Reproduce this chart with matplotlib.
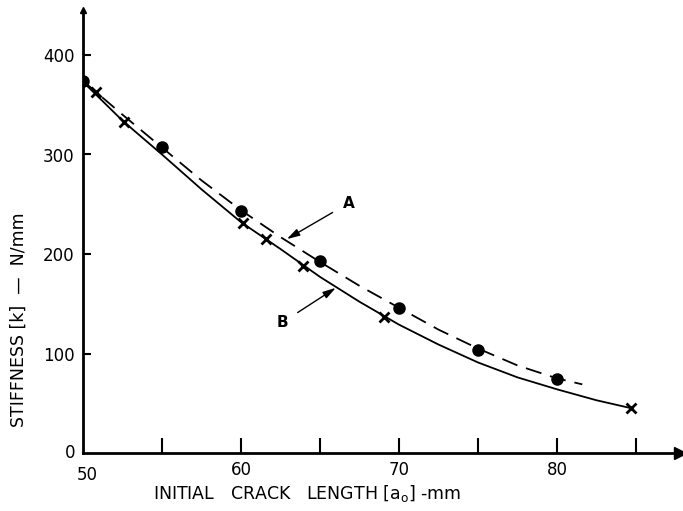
import numpy as np
import matplotlib.pyplot as plt

# measured points (initial crack length mm, stiffness N/mm)
a_dots = [50, 55, 60, 65, 70, 75, 80]
k_dots = [374, 308, 243, 193, 146, 104, 74]
a_cross = [50.8, 52.6, 60.1, 61.6, 63.9, 69.05, 84.7]
k_cross = [363, 333, 231, 215, 188, 137, 45]

# traced curves
a_curve_A = [50, 52.5, 55, 57.5, 60, 62.5, 65, 67.5, 70, 72.5, 75, 77.5, 80, 81.6]
k_curve_A = [374, 340, 307, 274, 244, 217, 192, 168, 146, 124, 105, 88, 75, 69]
a_curve_B = [50, 52.5, 55, 57.5, 60, 62.5, 65, 67.5, 70, 72.5, 75, 77.5, 80, 82.5, 84.7]
k_curve_B = [373, 334, 300, 265, 232, 205, 177, 152, 129, 109, 91, 76, 64, 53, 45]

x_ticks = [55, 60, 65, 70, 75, 80, 85]
x_labels = ['', '60', '', '70', '', '80', '']
y_ticks = [100, 200, 300, 400]

plt.rcParams['font.family'] = ['DejaVu Sans']

fig = plt.figure(figsize=(6.83, 5.11), dpi=100)
ax = fig.add_axes([83/683, 58/511, 597/683, 443/511])
ax.set_xlim(50, 50 + 597/15.8)
ax.set_ylim(0, 443/0.995)

ax.plot(a_curve_A, k_curve_A, color='black', lw=1.3, dashes=(9, 5))
ax.plot(a_curve_B, k_curve_B, color='black', lw=1.3)
ax.plot(a_dots, k_dots, 'o', color='black', ms=8)
ax.plot(a_cross, k_cross, 'x', color='black', ms=7, mew=2)

for s in ['top', 'right']:
    ax.spines[s].set_visible(False)
for s in ['left', 'bottom']:
    ax.spines[s].set_linewidth(2)
ax.plot(1, 0, '>', color='black', ms=8, transform=ax.transAxes, clip_on=False)
ax.plot(0, 1, '^', color='black', ms=5, transform=ax.transAxes, clip_on=False)

ax.set_xticks(x_ticks)
ax.set_xticklabels(x_labels)
ax.set_yticks(y_ticks)
ax.tick_params(axis='x', direction='in', length=11, width=1.5, labelsize=12, pad=6)
ax.tick_params(axis='y', direction='in', length=6, width=1.5, labelsize=12, pad=6)
ax.text(50.3, -13, '50', ha='center', va='top', fontsize=12)
ax.text(49.5, 0, '0', ha='right', va='center', fontsize=12)

ax.annotate('A', xy=(62.9, 215), xytext=(66.8, 251), fontsize=11, fontweight='bold',
            ha='center', va='center',
            arrowprops=dict(arrowstyle='-|>,head_length=0.7,head_width=0.2',
                            color='black', lw=1, shrinkA=6, shrinkB=0))
ax.annotate('B', xy=(66.0, 166), xytext=(62.6, 131), fontsize=11, fontweight='bold',
            ha='center', va='center',
            arrowprops=dict(arrowstyle='-|>,head_length=0.7,head_width=0.2',
                            color='black', lw=1, shrinkA=6, shrinkB=0))

fig.text(19/683, 1 - 320/511, 'STIFFNESS [k]  \u2014  N/mm', rotation=90,
         ha='center', va='center', fontsize=12.5)
fig.text(307/683, 1 - 493/511, r'INITIAL   CRACK   LENGTH [a$_\mathrm{o}$] -mm',
         ha='center', va='center', fontsize=12.5)

fig.savefig('out.png', dpi=100)
